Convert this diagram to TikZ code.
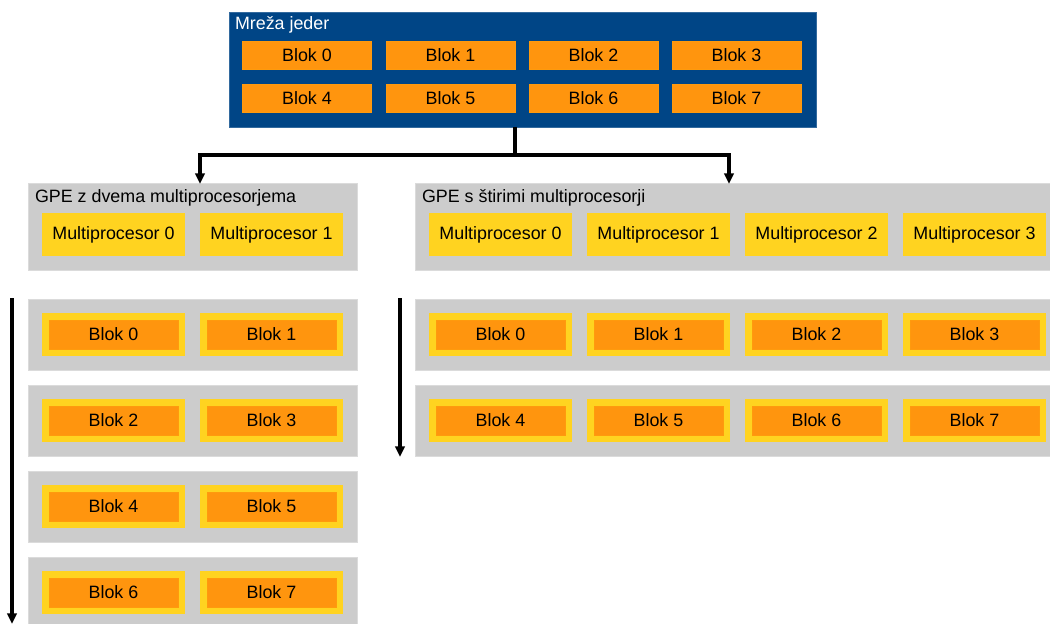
\documentclass[tikz,border=0pt]{standalone}
\usepackage{fontspec}
\setmainfont{Liberation Sans}
\usetikzlibrary{arrows.meta}
\definecolor{gblue}{HTML}{004586}
\definecolor{gorange}{HTML}{FF950E}
\definecolor{gyellow}{HTML}{FFD320}
\definecolor{ggray}{HTML}{CCCCCC}
\begin{document}
\begin{tikzpicture}[x=0.75pt,y=-0.75pt,
  every node/.style={inner sep=0pt,outer sep=0pt,font=\fontsize{13.4}{15}\selectfont},
  sz/.style 2 args={minimum width=#1*0.75pt,minimum height=#2*0.75pt},
  gridbox/.style={fill=gblue,draw=gblue!80!white,line width=0.6pt},
  blk/.style={fill=gorange,draw=gorange!95!yellow,line width=0.4pt,sz={129}{29}},
  mp/.style={fill=gyellow,sz={143}{43}},
  gpe/.style={fill=ggray,draw=ggray!70!white,line width=0.6pt},
  title/.style={anchor=west},
  conn/.style={line width=2.3pt,-{Triangle[width=7pt,length=8pt]}}
]
\clip (0,0) rectangle (1050,624);
\useasboundingbox (0,0) rectangle (1050,624);

% grid
\node[gridbox,sz={587}{115}] (grid) at (522.5,69.5) {};
\node[title,text=white] (gridt) at (235,25) {Mreža jeder};
\node[blk,sz={129}{28}] (g0) at (307,55) {Blok 0};
\node[blk,sz={129}{28}] (g1) at (450.5,55) {Blok 1};
\node[blk,sz={129}{28}] (g2) at (593.5,55) {Blok 2};
\node[blk,sz={129}{28}] (g3) at (736.5,55) {Blok 3};
\node[blk,sz={129}{28}] (g4) at (307,98) {Blok 4};
\node[blk,sz={129}{28}] (g5) at (450.5,98) {Blok 5};
\node[blk,sz={129}{28}] (g6) at (593.5,98) {Blok 6};
\node[blk,sz={129}{28}] (g7) at (736.5,98) {Blok 7};

% GPE left
\node[gpe,sz={329}{87}] (gpeA) at (192.5,226.5) {};
\node[title] (gpeAt) at (35,198) {GPE z dvema multiprocesorjema};
\node[mp] (a0) at (113.5,234.5) {Multiprocesor 0};
\node[mp] (a1) at (271.5,234.5) {Multiprocesor 1};

% GPE right
\node[gpe,sz={645}{87}] (gpeB) at (737.5,226.5) {};
\node[title] (gpeBt) at (422,198) {GPE s štirimi multiprocesorji};
\node[mp] (b0) at (500.5,234.5) {Multiprocesor 0};
\node[mp] (b1) at (658.5,234.5) {Multiprocesor 1};
\node[mp] (b2) at (816.5,234.5) {Multiprocesor 2};
\node[mp] (b3) at (974.5,234.5) {Multiprocesor 3};

% connectors
\coordinate (split) at (515,155);
\coordinate (la) at (200,184);
\coordinate (ra) at (729,184);
\draw[conn] (grid.south -| split) -- (split) -| (la);
\draw[conn] (split) -| (ra);

% left rows
\foreach \y/\i/\j [count=\r] in {334.5/0/1,420.5/2/3,506.5/4/5,592.5/6/7}{
  \node[gpe,sz={329}{71}] (lrow\r) at (192.5,\y) {};
  \node[mp] (ly\i) at (113.5,\y) {};
  \node[mp] (ly\j) at (271.5,\y) {};
  \node[blk] (lb\i) at (113.5,\y) {Blok \i};
  \node[blk] (lb\j) at (271.5,\y) {Blok \j};
}
% right rows
\foreach \y/\a/\b/\c/\d [count=\r] in {334.5/0/1/2/3,420.5/4/5/6/7}{
  \node[gpe,sz={645}{71}] (rrow\r) at (737.5,\y) {};
  \node[mp] (ry\a) at (500.5,\y) {};
  \node[mp] (ry\b) at (658.5,\y) {};
  \node[mp] (ry\c) at (816.5,\y) {};
  \node[mp] (ry\d) at (974.5,\y) {};
  \node[blk] (rb\a) at (500.5,\y) {Blok \a};
  \node[blk] (rb\b) at (658.5,\y) {Blok \b};
  \node[blk] (rb\c) at (816.5,\y) {Blok \c};
  \node[blk] (rb\d) at (974.5,\y) {Blok \d};
}

% time arrows
\coordinate (lt0) at (12,298);
\coordinate (lt1) at (12,624);
\coordinate (rt0) at (400,298);
\coordinate (rt1) at (400,457);
\draw[conn] (lt0) -- (lt1);
\draw[conn] (rt0) -- (rt1);
\end{tikzpicture}
\end{document}
